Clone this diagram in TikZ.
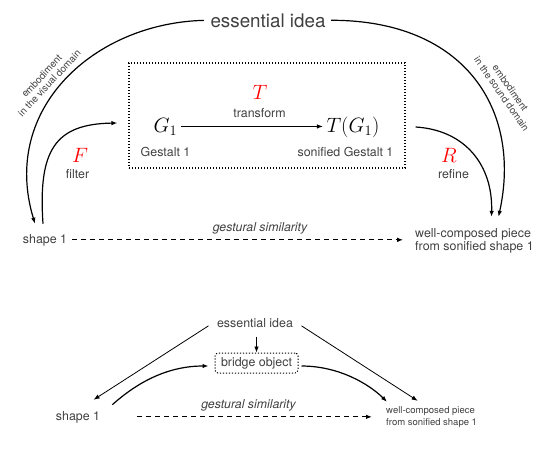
\documentclass[tikz,border=0pt]{standalone}
\usepackage{fontspec}
\setmainfont{TeX Gyre Heros}
\usetikzlibrary{arrows.meta}
\definecolor{txtgray}{HTML}{404040}

\begin{document}
\begin{tikzpicture}[x=1pt,y=-1pt,
        >={Latex[length=6pt,width=4.5pt]},
        every node/.style={text=txtgray},
        bigtxt/.style={font=\fontsize{18.8}{22}\selectfont},
        txt/.style={font=\fontsize{12.4}{13.5}\selectfont},
        gesttxt/.style={font=\fontsize{12.3}{13.5}\selectfont\itshape},
        embtxt/.style={font=\fontsize{9.8}{10.6}\selectfont},
        smalltxt/.style={font=\fontsize{9.5}{11.5}\selectfont},
        mathtxt/.style={font=\fontsize{22}{26}\selectfont},
        arc/.style={line width=1.2pt,->},
        thinarrow/.style={line width=0.8pt,->},
        dashedarrow/.style={line width=1.1pt,dash pattern=on 5pt off 4pt,->},
        dottedbox/.style={draw,line width=1.1pt,dash pattern=on 1.2pt off 1.8pt}]
    \useasboundingbox (0,0) rectangle (545,450);

    % top: essential idea
    \node[bigtxt,anchor=base] (idea) at (268,27) {essential idea};

    % transform box
    \node[dottedbox,minimum width=276pt,minimum height=105pt] (frame) at (267,115.5) {};
    \node[mathtxt,text=black,anchor=base] (g) at (165.5,132) {$G_1$};
    \node[mathtxt,text=black,anchor=base] (tg) at (353,132) {$T(G_1)$};
    \node[mathtxt,text=red,anchor=base] (t) at (260,99) {$T$};
    \node[txt,anchor=base] (tlbl) at (259.5,117) {transform};
    \node[txt,anchor=base] (glbl) at (165.5,156) {Gestalt 1};
    \node[txt,anchor=base] (tglbl) at (345.5,156) {sonified Gestalt 1};
    \draw[line width=1.1pt,->] (g.east) -- (g.east -| tg.west);

    % filter and refine
    \node[mathtxt,text=red,anchor=base] (f) at (80,162) {$F$};
    \node[txt,anchor=base] (flbl) at (77.5,178) {filter};
    \node[mathtxt,text=red,anchor=base] (r) at (449,162) {$R$};
    \node[txt,anchor=base] (rlbl) at (453.5,178) {refine};

    % shape and piece
    \node[txt,anchor=base] (shape) at (45,243) {shape 1};
    \node[txt,align=left,anchor=west] (piece) at (411.7,241) {well-composed piece\\from sonified shape 1};
    \node[gesttxt,anchor=base] (gest) at (260,231) {gestural similarity};
    \draw[dashedarrow,shorten <=1.5pt,shorten >=8.5pt] (shape.east) -- (shape.east -| piece.west);

    % embodiment arcs
    \draw[arc,shorten <=3pt] (idea.west) .. controls (95,23) and (0,108) .. ([xshift=-10pt,yshift=6.7pt]shape.north);
    \draw[arc,shorten <=2pt] (idea.east) .. controls (465,20) and (522,110) .. ([xshift=24pt,yshift=8pt]piece.north);
    \node[embtxt,align=center,rotate=47] (visual) at (45.5,79.5) {embodiment\\in the visual domain};
    \node[embtxt,align=center,rotate=-55] (sound) at (506,91) {embodiment\\in the sound domain};

    % filter and refine arcs
    \draw[arc] ([xshift=-2pt,yshift=6.7pt]shape.north) .. controls (38,150) and (55,124) .. ([xshift=-11pt,yshift=-7.5pt]frame.west);
    \draw[arc] ([xshift=10pt,yshift=-11.5pt]frame.east) .. controls (465,130) and (493,165) .. ([xshift=17pt,yshift=8pt]piece.north);

    % bottom: the same with a bridge object
    \node[txt,anchor=base] (idea2) at (255,327) {essential idea};
    \node[txt,dottedbox,line width=1pt,rounded corners=3pt,minimum width=83pt,minimum height=20pt] (bridge) at (256.5,363) {bridge object};
    \node[txt,anchor=base] (shape2) at (78,420) {shape 1};
    \node[smalltxt,align=left,anchor=west] (piece2) at (382.7,417) {well-composed piece\\from sonified shape 1};
    \node[gesttxt,anchor=base] (gest2) at (248.5,408) {gestural similarity};

    \draw[thinarrow,shorten <=6pt] (idea2.south -| bridge.north) -- (bridge.north);
    \draw[thinarrow,shorten <=6pt] (idea2.west) -- ([xshift=-10pt,yshift=7.7pt]shape2.north east);
    \draw[thinarrow,shorten <=6pt] (idea2.east) -- ([xshift=35pt,yshift=2.4pt]piece2.north west);
    \draw[arc] ([xshift=8.7pt,yshift=2.7pt]shape2.north east) .. controls (140,380) and (170,366) .. ([xshift=-6pt,yshift=-3pt]bridge.west);
    \draw[arc] ([xshift=3pt,yshift=-3pt]bridge.east) .. controls (340,366) and (370,385) .. ([xshift=4.3pt,yshift=1.4pt]piece2.north west);
    \draw[dashedarrow,shorten <=33.7pt,shorten >=10.7pt] (shape2.east) -- (shape2.east -| piece2.west);

\end{tikzpicture}
\end{document}
